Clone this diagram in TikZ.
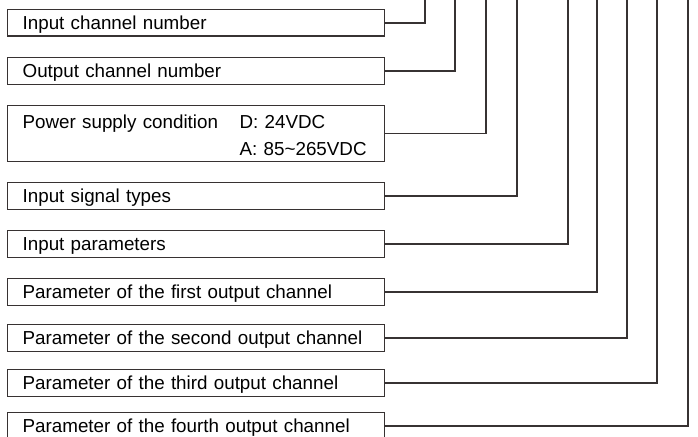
\documentclass[tikz,border=0pt]{standalone}
\usepackage{fontspec}
\setmainfont{Liberation Sans}
\usepackage{tikz}
\usetikzlibrary{positioning}
\definecolor{wirecol}{RGB}{55,50,50}

\tikzset{
  itembox/.style={draw=wirecol, line width=1.3pt, anchor=north west,
    minimum width=377pt, minimum height=26.5pt, text width=347pt, align=left,
    inner xsep=15pt, inner ysep=0pt, text height=13.5pt, text depth=0pt},
  wire/.style={draw=wirecol, line width=1.3pt}
}

\begin{document}
\begin{tikzpicture}[x=1pt, y=-1pt, font=\fontsize{18.8}{27}\selectfont]
  \useasboundingbox (0,0) rectangle (698,436);

  % Boxes
  \node[itembox] (inch)   at (7,9)   {Input channel number};
  \node[itembox] (outch)  at (7,57)  {Output channel number};
  \node[itembox, minimum height=56pt, text height=17.2pt, text depth=27pt] (power) at (7,105)
    {\makebox[217pt][l]{Power supply condition}D: 24VDC\\
     \hspace*{217pt}A: 85\textasciitilde265VDC};
  \node[itembox] (intype) at (7,182) {Input signal types};
  \node[itembox] (inpar)  at (7,230) {Input parameters};
  \node[itembox] (outa)   at (7,278) {Parameter of the first output channel};
  \node[itembox] (outb)   at (7,324) {Parameter of the second output channel};
  \node[itembox] (outc)   at (7,369) {Parameter of the third output channel};
  \node[itembox] (outd)   at (7,412) {Parameter of the fourth output channel};

  % Top ends of the leads
  \coordinate (tinch)   at (425,-1);
  \coordinate (toutch)  at (455,-1);
  \coordinate (tpower)  at (486,-1);
  \coordinate (tintype) at (517,-1);
  \coordinate (tinpar)  at (568,-1);
  \coordinate (touta)   at (597,-1);
  \coordinate (toutb)   at (627,-1);
  \coordinate (toutc)   at (657,-1);
  \coordinate (toutd)   at (688,-1);

  % Leads
  \draw[wire] (inch.east)   -| (tinch);
  \draw[wire] (outch.east)  -| (toutch);
  \draw[wire] (power.east)  -| (tpower);
  \draw[wire] (intype.east) -| (tintype);
  \draw[wire] (inpar.east)  -| (tinpar);
  \draw[wire] (outa.east)   -| (touta);
  \draw[wire] (outb.east)   -| (toutb);
  \draw[wire] (outc.east)   -| (toutc);
  \draw[wire] (outd.east)   -| (toutd);
\end{tikzpicture}
\end{document}
